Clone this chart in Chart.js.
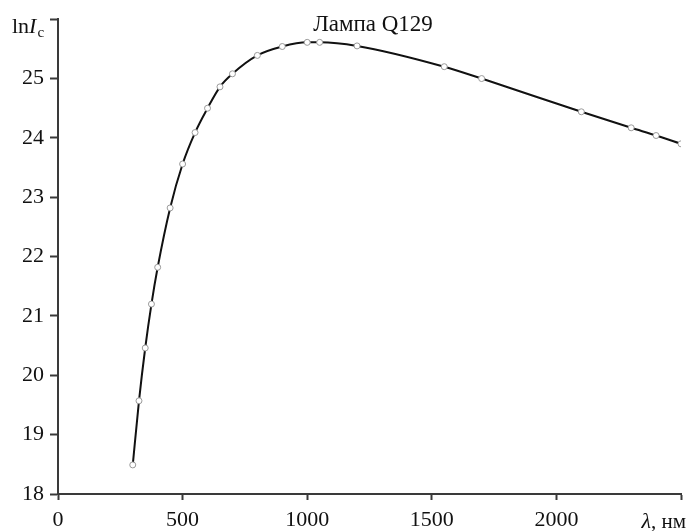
<!DOCTYPE html>
<html>
<head>
<meta charset="utf-8">
<script src="https://cdn.jsdelivr.net/npm/chart.js@4/dist/chart.umd.min.js"></script>
<style>
  html, body { margin: 0; padding: 0; background: #fff; }
  #wrap { width: 688px; height: 531px; position: relative; }
</style>
</head>
<body>
<div id="wrap"><canvas id="lampChart"></canvas></div>
<script>
    // данные
    const lambdaNm = [300, 325, 350, 375, 400, 450, 500, 550, 600, 650, 700, 800, 900, 1000, 1050, 1200, 1550, 1700, 2100, 2300, 2400, 2500];
    const lnIc = [18.49, 19.57, 20.46, 21.20, 21.82, 22.82, 23.56, 24.09, 24.50, 24.86, 25.08, 25.39, 25.54, 25.61, 25.61, 25.55, 25.20, 25.00, 24.44, 24.17, 24.04, 23.90];
    const xTicks = [0, 500, 1000, 1500, 2000, 2500];
    const yTicks = [18, 19, 20, 21, 22, 23, 24, 25, 26];
    const titleText = 'Лампа Q129';

    const SERIF = '"Liberation Serif", "DejaVu Serif", serif';
    const axisColor = '#3a3a3a';

    // подписи: заголовок, lnIc, λ, нм
    const labelsPlugin = {
        id: 'labels',
        afterDraw(chart) {
            const ctx = chart.ctx;
            ctx.save();
            ctx.fillStyle = '#111';
            ctx.textBaseline = 'alphabetic';

            ctx.font = '23px ' + SERIF;
            ctx.textAlign = 'center';
            ctx.fillText(titleText, 373, 31);

            // lnI_c
            ctx.textAlign = 'left';
            let x = 12;
            ctx.font = '22px ' + SERIF;
            ctx.fillText('ln', x, 33);
            x += ctx.measureText('ln').width;
            ctx.font = 'italic 22px ' + SERIF;
            ctx.fillText('I', x, 33);
            x += ctx.measureText('I').width + 1;
            ctx.font = '15px ' + SERIF;
            ctx.fillText('c', x, 37);

            // λ, нм
            ctx.textAlign = 'right';
            ctx.font = '21px ' + SERIF;
            const tail = ', нм';
            ctx.fillText(tail, 686, 528);
            const w = ctx.measureText(tail).width;
            ctx.font = 'italic 22px ' + SERIF;
            ctx.fillText('λ', 686 - w, 528);
            ctx.restore();
        }
    };

    new Chart(document.getElementById('lampChart'), {
        type: 'scatter',
        data: {
            datasets: [{
                data: lambdaNm.map((v, i) => ({ x: v, y: lnIc[i] })),
                showLine: true,
                borderColor: '#111',
                borderWidth: 2,
                cubicInterpolationMode: 'monotone',
                pointRadius: 3,
                pointBackgroundColor: '#fff',
                pointBorderColor: '#9a9a9a',
                pointBorderWidth: 1
            }]
        },
        options: {
            responsive: true,
            maintainAspectRatio: false,
            animation: false,
            layout: { padding: { top: 16, right: 1, left: 0, bottom: 0 } },
            plugins: {
                legend: { display: false },
                tooltip: { enabled: false },
                title: { display: false }
            },
            scales: {
                x: {
                    type: 'linear',
                    min: xTicks[0],
                    max: xTicks[xTicks.length - 1],
                    afterBuildTicks: (s) => { s.ticks = xTicks.map(v => ({ value: v })); },
                    afterFit: (s) => { s.height = 37; },
                    ticks: {
                        color: '#111',
                        font: { family: SERIF, size: 22 },
                        padding: 7,
                        maxRotation: 0,
                        callback: (v) => v === 2500 ? '' : v
                    },
                    grid: { drawOnChartArea: false, drawTicks: true, tickLength: 6, tickColor: axisColor, tickWidth: 2 },
                    border: { display: true, color: axisColor, width: 2 }
                },
                y: {
                    min: yTicks[0],
                    max: yTicks[yTicks.length - 1],
                    afterBuildTicks: (s) => { s.ticks = yTicks.map(v => ({ value: v })); },
                    afterFit: (s) => { s.width = 58; },
                    ticks: {
                        color: '#111',
                        font: { family: SERIF, size: 22 },
                        padding: 6,
                        callback: (v) => v === 26 ? '' : v
                    },
                    grid: { drawOnChartArea: false, drawTicks: true, tickLength: 8, tickColor: axisColor, tickWidth: 2 },
                    border: { display: true, color: axisColor, width: 2 }
                }
            }
        },
        plugins: [labelsPlugin]
    });
</script>
</body>
</html>
